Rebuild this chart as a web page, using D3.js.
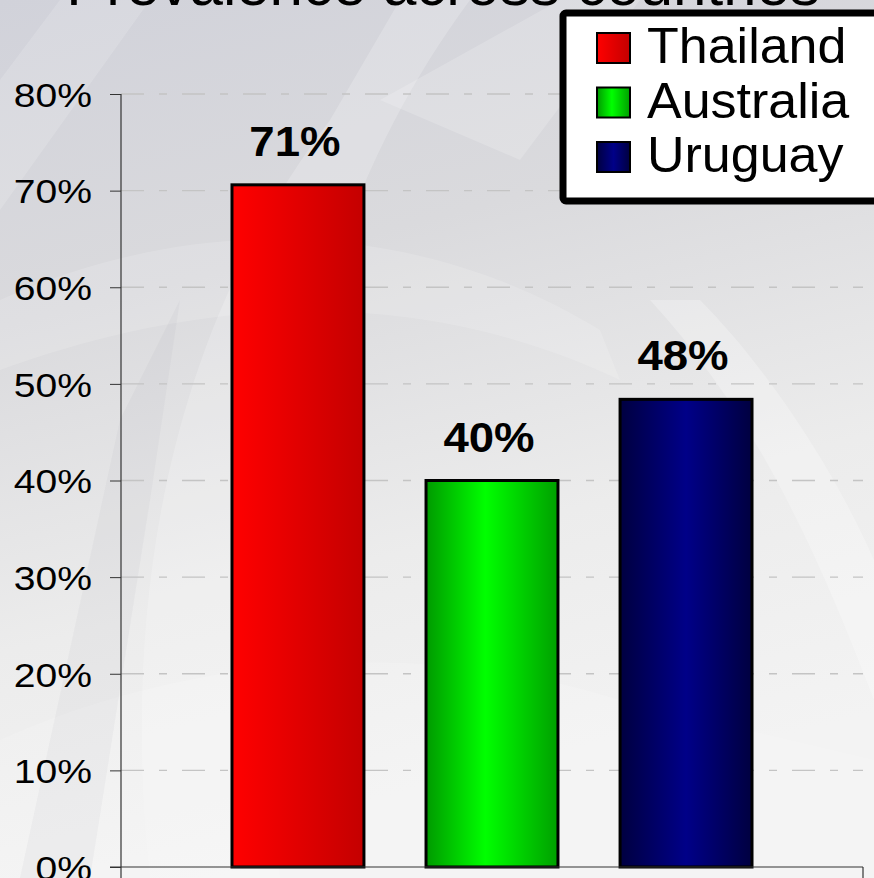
<!DOCTYPE html>
<html>
<head>
<meta charset="utf-8">
<script src="https://cdn.jsdelivr.net/npm/d3@7"></script>
<style>
  html, body { margin: 0; padding: 0; overflow: hidden; }
  #chart { width: 874px; height: 878px; }
  text { font-family: "Liberation Sans", Arial, sans-serif; }
</style>
</head>
<body>
<div id="chart"></div>
<script>
// chart values
var countries = ["Thailand", "Australia", "Uruguay"];
var prevalence = [0.706, 0.400, 0.484];
var valueLabels = ["71%", "40%", "48%"];
var tickValues = [0, 0.1, 0.2, 0.3, 0.4, 0.5, 0.6, 0.7, 0.8];
var tickLabels = ["0%", "10%", "20%", "30%", "40%", "50%", "60%", "70%", "80%"];
var titleText = "Prevalence across countries";

function render_prevalence_chart() {
  const width = 874, height = 878;
  const plot = { left: 121, right: 863, top: 94, bottom: 867 };

  d3.select('#chart').selectAll('*').remove();

  var svg = d3.select('#chart').append('svg')
      .attr("width", width)
      .attr("height", height);

  var defs = svg.append("defs");

  // slide background
  var bg = defs.append("linearGradient").attr("id", "bg")
      .attr("x1", 0).attr("y1", 0).attr("x2", 0.25).attr("y2", 1);
  bg.append("stop").attr("offset", 0).attr("stop-color", "#d1d2da");
  bg.append("stop").attr("offset", 0.35).attr("stop-color", "#dadadd");
  bg.append("stop").attr("offset", 0.7).attr("stop-color", "#ececec");
  bg.append("stop").attr("offset", 1).attr("stop-color", "#f3f3f3");

  // bar fills, one gradient per country
  var fills = [
    [["0", "#ff0000"], ["1", "#c40000"]],
    [["0", "#009a00"], ["0.45", "#00ff00"], ["1", "#00a000"]],
    [["0", "#000040"], ["0.5", "#000088"], ["1", "#000040"]]
  ];
  fills.forEach(function(stops, i) {
    var g = defs.append("linearGradient").attr("id", "bar" + i)
        .attr("x1", 0).attr("y1", 0).attr("x2", 1).attr("y2", 0);
    stops.forEach(function(s) {
      g.append("stop").attr("offset", s[0]).attr("stop-color", s[1]);
    });
  });

  svg.append("rect")
      .attr("width", width).attr("height", height)
      .attr("fill", "url(#bg)");

  // faint logo shapes in the background
  var deco = svg.append("g");
  deco.append("path")
      .attr("d", "M150,878 C120,600 170,330 330,120 L400,0 L470,0 C300,230 250,520 280,878 Z")
      .attr("fill", "#ffffff").attr("opacity", 0.2);
  deco.append("path")
      .attr("d", "M0,300 C200,210 420,220 600,330 L620,380 C430,290 220,290 0,370 Z")
      .attr("fill", "#ffffff").attr("opacity", 0.15);
  deco.append("path")
      .attr("d", "M380,100 L560,0 L640,0 L520,160 Z")
      .attr("fill", "#ffffff").attr("opacity", 0.18);
  deco.append("path")
      .attr("d", "M650,300 C760,420 820,560 874,700 L874,560 C830,460 760,360 700,300 Z")
      .attr("fill", "#ffffff").attr("opacity", 0.25);
  deco.append("path")
      .attr("d", "M0,740 C200,650 430,640 620,700 L874,760 L874,878 L0,878 Z")
      .attr("fill", "#ffffff").attr("opacity", 0.15);
  deco.append("path")
      .attr("d", "M0,80 L60,0 L150,0 L0,210 Z")
      .attr("fill", "#ffffff").attr("opacity", 0.15);
  deco.append("path")
      .attr("d", "M20,878 L120,420 L180,300 L150,500 L90,878 Z")
      .attr("fill", "#9a9aa0").attr("opacity", 0.08);

  // scales
  var x = d3.scaleBand()
      .domain(countries)
      .range([plot.left, plot.right])
      .paddingInner(0.32)
      .paddingOuter(0.572);

  var y = d3.scaleLinear()
      .domain([0, 0.8])
      .range([plot.bottom, plot.top]);

  // dashed gridlines
  svg.append("g")
    .selectAll("line")
    .data(tickValues.filter(function(d) { return d > 0; }))
    .enter()
    .append("line")
      .attr("x1", plot.left)
      .attr("x2", plot.right)
      .attr("y1", function(d) { return y(d); })
      .attr("y2", function(d) { return y(d); })
      .attr("stroke", "#c4c4c4")
      .attr("stroke-width", 1.3)
      .attr("stroke-dasharray", "23,15,8,15");

  // y axis
  var yAxis = svg.append("g")
      .attr("transform", "translate(" + plot.left + ",0)")
      .call(d3.axisLeft(y)
        .tickValues(tickValues)
        .tickFormat(function(d, i) { return tickLabels[i]; })
        .tickSize(11)
        .tickPadding(0));
  yAxis.select(".domain").remove();
  yAxis.selectAll(".tick line").attr("stroke", "#333");
  yAxis.selectAll(".tick text").remove();
  yAxis.selectAll(".tick")
    .append("text")
      .attr("transform", "translate(-29,0) scale(1.15,1)")
      .attr("text-anchor", "end")
      .attr("dy", "0.36em")
      .attr("fill", "#000")
      .style("font-size", "34px")
      .text(function(d, i) { return tickLabels[i]; });

  svg.append("line")
      .attr("x1", plot.left).attr("x2", plot.left)
      .attr("y1", plot.top).attr("y2", height)
      .attr("stroke", "#333").attr("stroke-width", 1.2);

  // bars
  svg.append("g")
    .selectAll("rect")
    .data(countries)
    .enter()
    .append("rect")
      .attr("x", function(d) { return x(d); })
      .attr("y", function(d, i) { return y(prevalence[i]); })
      .attr("width", x.bandwidth())
      .attr("height", function(d, i) { return y(0) - y(prevalence[i]); })
      .attr("fill", function(d, i) { return "url(#bar" + i + ")"; })
      .attr("stroke", "#000")
      .attr("stroke-width", 3);

  // value labels
  svg.append("g")
    .selectAll("text")
    .data(countries)
    .enter()
    .append("text")
      .attr("transform", function(d, i) {
        return "translate(" + (x(d) + x.bandwidth() / 2 - 3) + "," + (y(prevalence[i]) - 29) + ") scale(1.06,1)";
      })
      .attr("text-anchor", "middle")
      .style("font-size", "43px")
      .style("font-weight", "bold")
      .text(function(d, i) { return valueLabels[i]; });

  // baseline and plot box edge
  svg.append("line")
      .attr("x1", plot.left - 11).attr("x2", plot.right)
      .attr("y1", y(0)).attr("y2", y(0))
      .attr("stroke", "#333").attr("stroke-width", 1.2);
  svg.append("line")
      .attr("x1", plot.right).attr("x2", plot.right)
      .attr("y1", y(0)).attr("y2", height)
      .attr("stroke", "#333").attr("stroke-width", 1.2);

  // title, cut off at the top of the slide
  svg.append("text")
      .attr("x", 443)
      .attr("y", 5)
      .attr("text-anchor", "middle")
      .style("font-size", "60px")
      .text(titleText);

  // legend
  var legend = svg.append("g");
  legend.append("rect")
      .attr("x", 563).attr("y", 13)
      .attr("width", 330).attr("height", 188)
      .attr("rx", 3)
      .attr("fill", "#fff")
      .attr("stroke", "#000")
      .attr("stroke-width", 7);

  var item = legend.selectAll("g.item")
    .data(countries)
    .enter()
    .append("g")
      .attr("class", "item")
      .attr("transform", function(d, i) { return "translate(0," + (i * 54.5) + ")"; });
  item.append("rect")
      .attr("x", 597).attr("y", 33)
      .attr("width", 33).attr("height", 30)
      .attr("fill", function(d, i) { return "url(#bar" + i + ")"; })
      .attr("stroke", "#000")
      .attr("stroke-width", 2);
  item.append("text")
      .attr("transform", "translate(647,63) scale(1.04,1)")
      .style("font-size", "50px")
      .text(function(d) { return d; });
}

render_prevalence_chart();
</script>
</body>
</html>
